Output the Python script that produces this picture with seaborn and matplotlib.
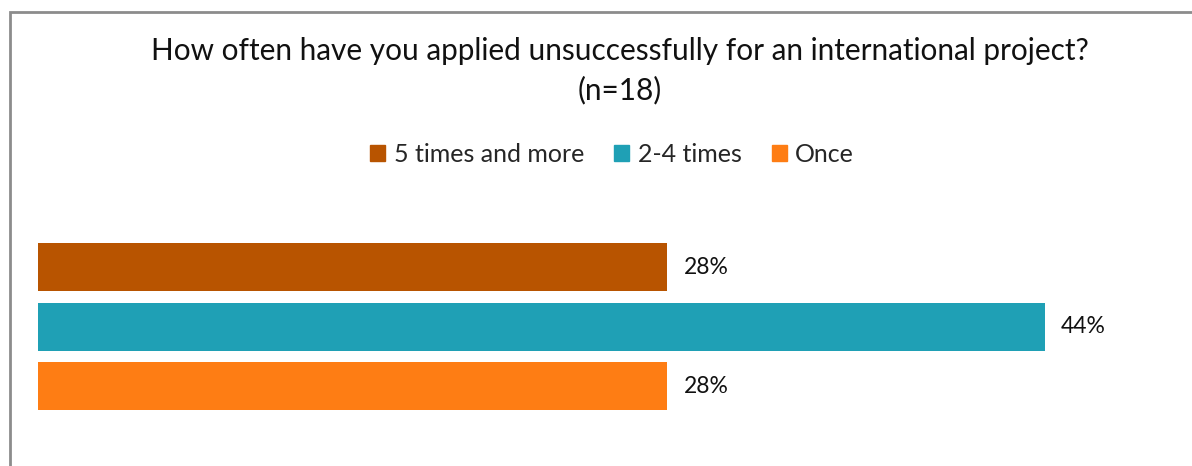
import matplotlib
matplotlib.use('Agg')
import matplotlib.pyplot as plt
from matplotlib.patches import Rectangle
import seaborn as sns
import pandas as pd

# Data: 18 respondents
categories = ['5 times and more', '2-4 times', 'Once']
counts = [5, 8, 5]
n_total = 18
shares = [c / n_total * 100 for c in counts]
colors = ['#B85400', '#1FA0B5', '#FE7D14']

df = pd.DataFrame({'answer': categories, 'share': shares})

sns.set_theme(style='white')
plt.rcParams['font.family'] = ['Lato', 'DejaVu Sans']

W, H = 1192, 466
fig = plt.figure(figsize=(W / 100, H / 100), dpi=100)

# axes placement in pixels
px_per_pct = (1045 - 38) / shares[1]
ax_left, ax_right = 38, 1150
ax_top, ax_bottom = 237.5, 416
ax = fig.add_axes([ax_left / W, 1 - ax_bottom / H, (ax_right - ax_left) / W, (ax_bottom - ax_top) / H])

sns.barplot(data=df, x='share', y='answer', hue='answer', palette=colors,
            orient='h', width=0.81, saturation=1, linewidth=0, legend=False, ax=ax)

ax.set_xlim(0, (ax_right - ax_left) / px_per_pct)
ax.set_ylim(2.5, -0.5)
ax.set_xlabel('')
ax.set_ylabel('')
ax.set_xticks([])
ax.set_yticks([])
for s in ax.spines.values():
    s.set_visible(False)

for i, v in enumerate(shares):
    ax.text(v + 16 / px_per_pct, i, f'{v:.0f}%', va='center', ha='left',
            fontsize=16.5, color='#111111')

title_x = 620 / W
fig.text(title_x, 1 - 51 / H, 'How often have you applied unsuccessfully for an international project?',
         ha='center', va='center', fontsize=21.4, color='#111111')
fig.text(title_x, 1 - 90 / H, f'(n={n_total})', ha='center', va='center', fontsize=21.4, color='#111111')

handles = [Rectangle((0, 0), 1, 1, color=c) for c in colors]
fig.legend(handles, categories, loc='center', bbox_to_anchor=(612 / W, 1 - 154 / H), ncol=3,
           frameon=False, fontsize=18, handlelength=0.6, handleheight=0.6,
           handletextpad=0.35, columnspacing=1.2)

# chart-area border (extends beyond right and bottom edges)
fig.patches.append(Rectangle((9.5 / W, -0.1), 1.0, 1.1 - 12.5 / H, transform=fig.transFigure,
                             fill=False, edgecolor='#8c8c8c', linewidth=2))

fig.savefig('out.png', dpi=100)
